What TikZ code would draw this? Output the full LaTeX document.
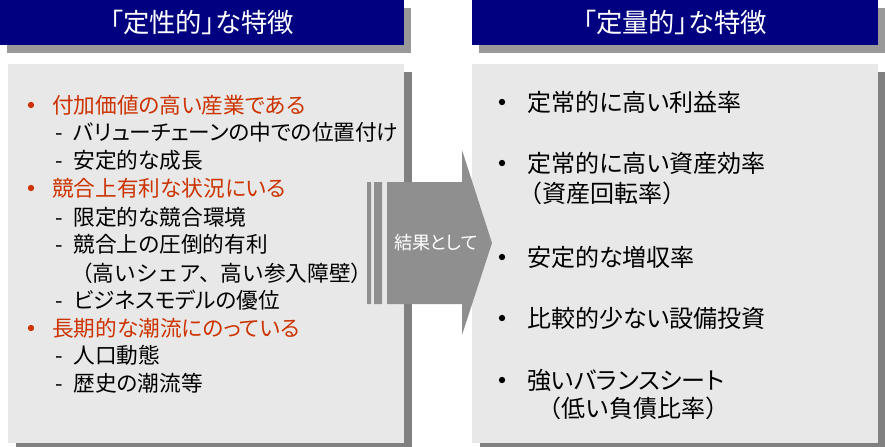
\documentclass[tikz,border=0pt]{standalone}
\usepackage{fontspec}
\setmainfont{Noto Sans CJK JP}[RawFeature=+palt]
\newfontfamily\fullwidth{Noto Sans CJK JP}
\usetikzlibrary{positioning, shadows}
\definecolor{navy}{RGB}{0,0,128}
\definecolor{accent}{RGB}{204,51,0}
\definecolor{panelgray}{RGB}{232,232,232}
\definecolor{headshadow}{RGB}{153,153,153}
\definecolor{panelshadow}{RGB}{128,128,128}
\definecolor{arrowgray}{RGB}{143,143,143}
\tikzset{header/.style={fill=navy, text=white, inner sep=0, minimum height=1.35cm, font=\fontsize{22.5}{25}\selectfont, drop shadow={shadow xshift=0.22cm, shadow yshift=-0.24cm, fill=headshadow, opacity=1}}}
\tikzset{panel/.style={fill=panelgray, inner sep=0, minimum height=11.37cm, drop shadow={shadow xshift=0.24cm, shadow yshift=-0.24cm, fill=panelshadow, opacity=1}}}
\tikzset{line/.style={anchor=west, inner sep=0, font=\fontsize{18.5}{21}\selectfont}}
\tikzset{rline/.style={line, font=\fontsize{20.5}{23}\selectfont}}
\tikzset{keypt/.style={line, text=accent}}
\tikzset{dot/.style={circle, inner sep=0, minimum size=0.19cm, fill=#1}}

\begin{document}
\begin{tikzpicture}[x=0.03cm, y=-0.03cm]
        \useasboundingbox (0,0) rectangle (885,447);

        \node[header, minimum width=12.12cm] (qualhead) at (202,22.5) {「定性的」な特徴};
        \node[header, minimum width=12.18cm] (quanthead) at (675,22.5) {「定量的」な特徴};

        \node[panel, minimum width=11.88cm] (qualbox) at (206,253.5) {};
        \node[panel, minimum width=12.18cm] (quantbox) at (675,253.5) {};

        \node[keypt] (q1) at (52,105) {付加価値の高い産業である};
        \node[line] (q1a) at (55,132) {-\enspace{}バリューチェーンの中での位置付け};
        \node[line] (q1b) at (55,160) {-\enspace{}安定的な成長};
        \node[keypt] (q2) at (52,188) {競合上有利な状況にいる};
        \node[line] (q2a) at (55,217) {-\enspace{}限定的な競合環境};
        \node[line] (q2b) at (55,244) {-\enspace{}競合上の圧倒的有利};
        \node[line] (q2c) at (71,273) {\fullwidth （高いシェア、高い参入障壁）};
        \node[line] (q2d) at (55,300) {-\enspace{}ビジネスモデルの優位};
        \node[keypt] (q3) at (52,328) {長期的な潮流にのっている};
        \node[line] (q3a) at (55,355) {-\enspace{}人口動態};
        \node[line] (q3b) at (55,383) {-\enspace{}歴史の潮流等};
        \foreach \y in {105,188,328}
            \node[dot=accent] at (31,\y) {};

        \node[rline] (n1) at (527,102) {定常的に高い利益率};
        \node[rline] (n2) at (527,163) {定常的に高い資産効率};
        \node[rline] (n2a) at (518,193) {\fullwidth （資産回転率）};
        \node[rline] (n3) at (527,257) {安定的な増収率};
        \node[rline] (n4) at (527,318) {比較的少ない設備投資};
        \node[rline] (n5) at (527,380) {強いバランスシート};
        \node[rline] (n5a) at (537,408) {\fullwidth （低い負債比率）};
        \foreach \y in {102,163,257,318,380}
            \node[dot=black] at (502,\y) {};

        \fill[arrowgray] (367,182) rectangle (371,304) (374,182) rectangle (382,304);
        \fill[arrowgray] (387,182) -- (462,182) -- (462,150) -- (492,243) -- (462,335) -- (462,304) -- (387,304) -- cycle;
        \node[text=white, font=\fontsize{15.5}{17}\selectfont] (result) at (436,243) {結果として};
    \end{tikzpicture}
\end{document}
